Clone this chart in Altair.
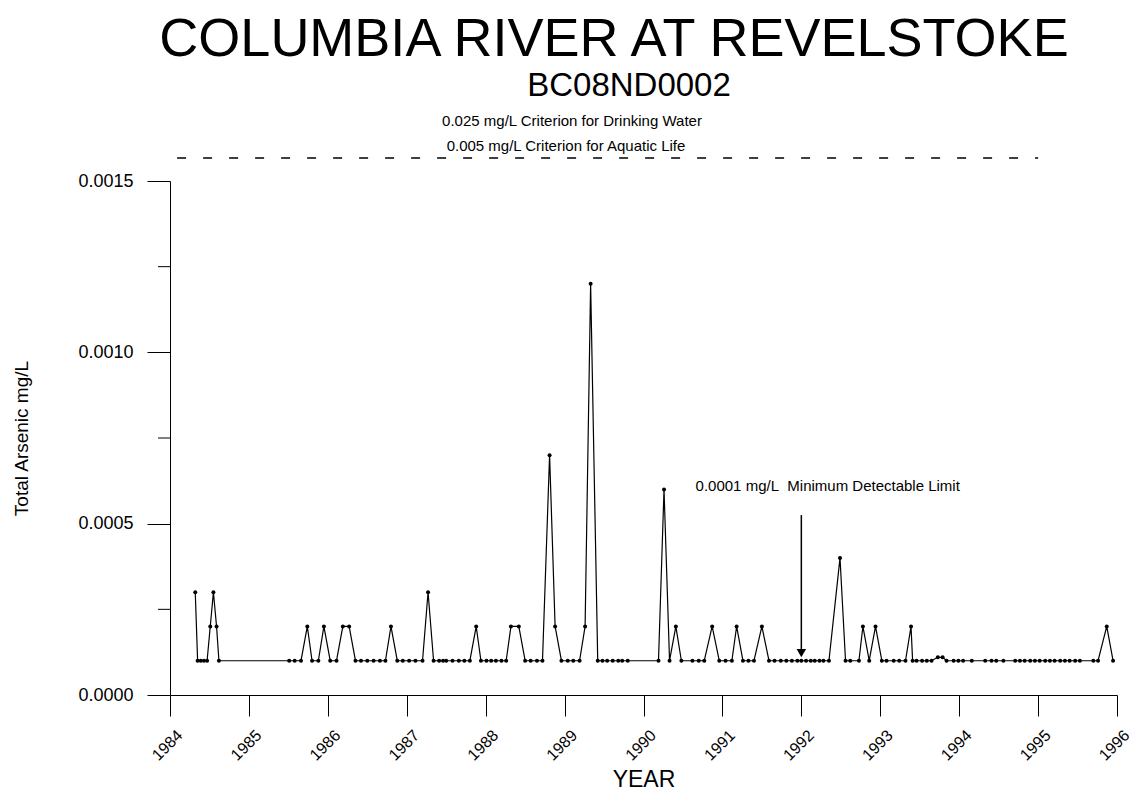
import altair as alt
import pandas as pd

# ---------------------------------------------------------
# DATA (decimal years)
# ---------------------------------------------------------
years = (
    [1984.32, 1984.35, 1984.39, 1984.43, 1984.47, 1984.51, 1984.55, 1984.59, 1984.62]
    + [1985.51, 1985.58, 1985.66, 1985.74, 1985.80, 1985.88, 1985.95]
    + [1986.03, 1986.11, 1986.19, 1986.27, 1986.35, 1986.42, 1986.50, 1986.58,
       1986.66, 1986.73, 1986.80, 1986.88, 1986.95]
    + [1987.03, 1987.11, 1987.20, 1987.27, 1987.34, 1987.41, 1987.46, 1987.50,
       1987.58, 1987.66, 1987.73, 1987.80, 1987.88, 1987.94]
    + [1988.01, 1988.07, 1988.13, 1988.20, 1988.26, 1988.32, 1988.42, 1988.50,
       1988.57, 1988.65, 1988.72, 1988.81, 1988.88, 1988.96]
    + [1989.04, 1989.11, 1989.19, 1989.26, 1989.33, 1989.42, 1989.48, 1989.54,
       1989.61, 1989.68, 1989.73, 1989.80]
    + [1990.19, 1990.26, 1990.33, 1990.41, 1990.48, 1990.62, 1990.70, 1990.77,
       1990.87, 1990.96]
    + [1991.04, 1991.12, 1991.18, 1991.26, 1991.33, 1991.40, 1991.50, 1991.59,
       1991.66, 1991.74, 1991.81, 1991.88, 1991.95]
    + [1992.00, 1992.06, 1992.12, 1992.17, 1992.23, 1992.28, 1992.35, 1992.49,
       1992.56, 1992.62, 1992.73, 1992.78, 1992.86, 1992.94]
    + [1993.02, 1993.08, 1993.17, 1993.24, 1993.32, 1993.39, 1993.41, 1993.46,
       1993.53, 1993.59, 1993.65, 1993.73, 1993.79, 1993.84, 1993.93, 1993.99]
    + [1994.05, 1994.16, 1994.33, 1994.41, 1994.47, 1994.56, 1994.71, 1994.77,
       1994.83, 1994.90, 1994.96]
    + [1995.02, 1995.09, 1995.15, 1995.21, 1995.28, 1995.34, 1995.40, 1995.47,
       1995.53, 1995.70, 1995.76, 1995.87, 1995.95]
)

arsenic = (
    [0.0003, 0.0001, 0.0001, 0.0001, 0.0001, 0.0002, 0.0003, 0.0002, 0.0001]
    + [0.0001, 0.0001, 0.0001, 0.0002, 0.0001, 0.0001, 0.0002]
    + [0.0001, 0.0001, 0.0002, 0.0002, 0.0001, 0.0001, 0.0001, 0.0001,
       0.0001, 0.0001, 0.0002, 0.0001, 0.0001]
    + [0.0001, 0.0001, 0.0001, 0.0003, 0.0001, 0.0001, 0.0001, 0.0001,
       0.0001, 0.0001, 0.0001, 0.0001, 0.0002, 0.0001]
    + [0.0001, 0.0001, 0.0001, 0.0001, 0.0001, 0.0002, 0.0002, 0.0001,
       0.0001, 0.0001, 0.0001, 0.0007, 0.0002, 0.0001]
    + [0.0001, 0.0001, 0.0001, 0.0002, 0.0012, 0.0001, 0.0001, 0.0001,
       0.0001, 0.0001, 0.0001, 0.0001]
    + [0.0001, 0.0006, 0.0001, 0.0002, 0.0001, 0.0001, 0.0001, 0.0001,
       0.0002, 0.0001]
    + [0.0001, 0.0001, 0.0002, 0.0001, 0.0001, 0.0001, 0.0002, 0.0001,
       0.0001, 0.0001, 0.0001, 0.0001, 0.0001]
    + [0.0001, 0.0001, 0.0001, 0.0001, 0.0001, 0.0001, 0.0001, 0.0004,
       0.0001, 0.0001, 0.0001, 0.0002, 0.0001, 0.0002]
    + [0.0001, 0.0001, 0.0001, 0.0001, 0.0001, 0.0002, 0.0001, 0.0001,
       0.0001, 0.0001, 0.0001, 0.00011, 0.00011, 0.0001, 0.0001, 0.0001]
    + [0.0001, 0.0001, 0.0001, 0.0001, 0.0001, 0.0001, 0.0001, 0.0001,
       0.0001, 0.0001, 0.0001]
    + [0.0001, 0.0001, 0.0001, 0.0001, 0.0001, 0.0001, 0.0001, 0.0001,
       0.0001, 0.0001, 0.0001, 0.0002, 0.0001]
)

x_ticks = [1984, 1985, 1986, 1987, 1988, 1989, 1990, 1991, 1992, 1993, 1994, 1995, 1996]
y_major = [0.0, 0.0005, 0.0010, 0.0015]
y_minor = [0.00025, 0.00075, 0.00125]

title_text = "COLUMBIA RIVER AT REVELSTOKE"
station_id = "BC08ND0002"
criteria_labels = ["0.025 mg/L Criterion for Drinking Water",
                   "0.005 mg/L Criterion for Aquatic Life"]
criteria_span = [1984.09, 1995.0]
mdl_label = "0.0001 mg/L\u00a0 Minimum Detectable Limit"
mdl_year = 1992
mdl_value = 0.0001

FONT = "Liberation Sans"

df = pd.DataFrame({"year": years, "arsenic": arsenic})

# ---------------------------------------------------------
# LAYERS
# ---------------------------------------------------------
x_enc = alt.X(
    "year:Q",
    scale=alt.Scale(domain=[1984, 1996], nice=False, zero=False),
    axis=alt.Axis(
        values=x_ticks, format="d", title="YEAR", grid=False,
        labelAngle=315, labelAlign="center", labelBaseline="middle",
        labelPadding=29, labelOffset=-3, tickSize=21, labelFlush=False,
        labelOverlap=False, labelFontSize=16, labelFont=FONT, labelColor="black",
        titleFont=FONT, titleFontSize=23, titleFontWeight="normal",
        titleColor="black", titleBaseline="alphabetic", titleY=91,
        domainColor="black", tickColor="black",
    ),
)
y_enc = alt.Y(
    "arsenic:Q",
    scale=alt.Scale(domain=[0, 0.0015], nice=False),
    axis=alt.Axis(
        values=y_major, format=".4f", title="Total Arsenic mg/L", grid=False,
        tickSize=23, labelPadding=14, labelFontSize=18, labelFont=FONT,
        labelColor="black", labelBaseline="middle",
        titleFont=FONT, titleFontSize=19, titleFontWeight="normal",
        titleColor="black", titleAngle=270, titleBaseline="alphabetic",
        titleX=-143, titleY=257,
        domainColor="black", tickColor="black",
    ),
)

series = alt.Chart(df).mark_line(
    color="black", strokeWidth=1.2,
    point=alt.OverlayMarkDef(filled=True, color="black", size=16),
).encode(x=x_enc, y=y_enc)

minor_ticks = alt.Chart(pd.DataFrame({"v": y_minor})).mark_rule(
    color="black", strokeWidth=1
).encode(x=alt.value(-12), x2=alt.value(0), y="v:Q")

criteria_line = alt.Chart(pd.DataFrame({"a": [criteria_span[0]], "b": [criteria_span[1]]})).mark_rule(
    color="black", strokeWidth=1.3, strokeDash=[9, 17]
).encode(x="a:Q", x2="b:Q", y=alt.value(-23))

crit1 = alt.Chart(pd.DataFrame({"t": [criteria_labels[0]]})).mark_text(
    font=FONT, fontSize=15, color="black", align="center", baseline="middle"
).encode(text="t:N", x=alt.value(402), y=alt.value(-60))

crit2 = alt.Chart(pd.DataFrame({"t": [criteria_labels[1]]})).mark_text(
    font=FONT, fontSize=15, color="black", align="center", baseline="middle"
).encode(text="t:N", x=alt.value(396), y=alt.value(-35))

main_title = alt.Chart(pd.DataFrame({"t": [title_text]})).mark_text(
    font=FONT, fontSize=54, color="black", align="center", baseline="alphabetic"
).encode(text="t:N", x=alt.value(444), y=alt.value(-125))

sub_title = alt.Chart(pd.DataFrame({"t": [station_id]})).mark_text(
    font=FONT, fontSize=33, color="black", align="center", baseline="alphabetic"
).encode(text="t:N", x=alt.value(459), y=alt.value(-85))

mdl_text = alt.Chart(pd.DataFrame({"t": [mdl_label], "x": [1990.66], "y": [0.00061]})).mark_text(
    font=FONT, fontSize=15, color="black", align="left", baseline="middle"
).encode(text="t:N", x="x:Q", y="y:Q")

mdl_arrow = alt.Chart(pd.DataFrame({"x": [mdl_year], "y": [0.000525], "y2": [0.00013]})).mark_rule(
    color="black", strokeWidth=1.5
).encode(x="x:Q", y="y:Q", y2="y2:Q")

mdl_head = alt.Chart(pd.DataFrame({"x": [mdl_year], "y": [mdl_value + 0.000022]})).mark_point(
    shape="triangle-down", filled=True, color="black", size=90, opacity=1
).encode(x="x:Q", y="y:Q")

chart = (
    alt.layer(series, minor_ticks, criteria_line, crit1, crit2, main_title,
              sub_title, mdl_text, mdl_arrow, mdl_head)
    .properties(
        width=947, height=514,
        autosize=alt.AutoSizeParams(type="none"),
        padding={"left": 162, "top": 173, "right": 17, "bottom": 100},
        background="white",
    )
    .configure_view(stroke=None)
)

chart.save("out.html", embed_options={"renderer": "svg", "actions": False})
